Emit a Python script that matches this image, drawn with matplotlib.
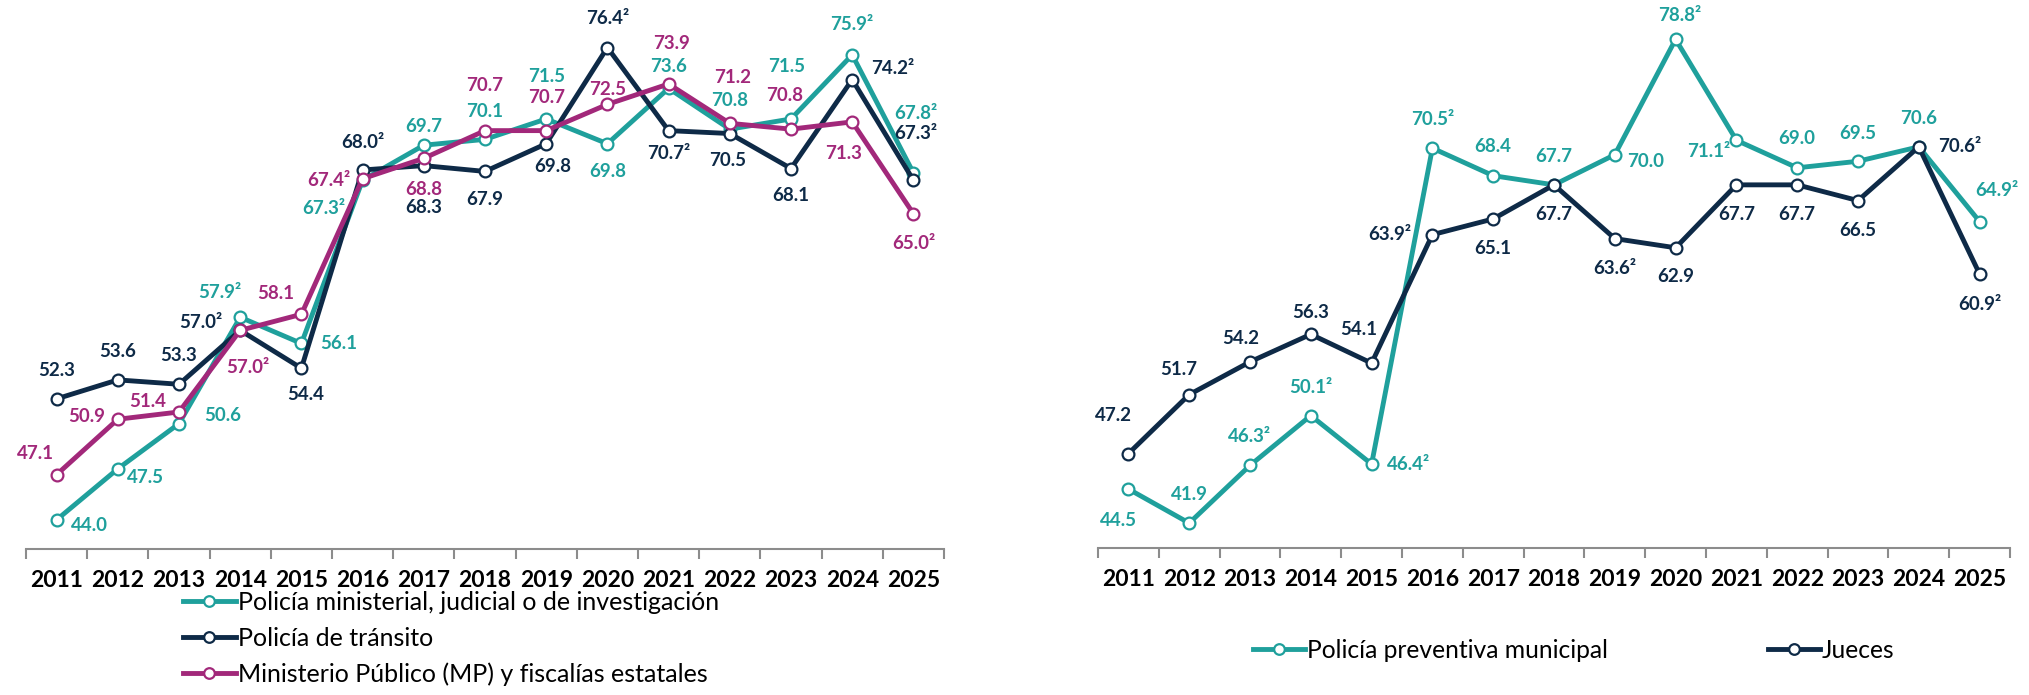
import matplotlib
matplotlib.use("Agg")
import matplotlib.pyplot as plt

plt.rcParams['font.family'] = ['Lato', 'DejaVu Sans']

# datos
anios = [str(a) for a in range(2011, 2026)]

ministerial = [44.0, 47.5, 50.6, 57.9, 56.1, 67.3, 69.7, 70.1, 71.5, 69.8, 73.6, 70.8, 71.5, 75.9, 67.8]
transito = [52.3, 53.6, 53.3, 57.0, 54.4, 68.0, 68.3, 67.9, 69.8, 76.4, 70.7, 70.5, 68.1, 74.2, 67.3]
mp = [47.1, 50.9, 51.4, 57.0, 58.1, 67.4, 68.8, 70.7, 70.7, 72.5, 73.9, 71.2, 70.8, 71.3, 65.0]

preventiva = [44.5, 41.9, 46.3, 50.1, 46.4, 70.5, 68.4, 67.7, 70.0, 78.8, 71.1, 69.0, 69.5, 70.6, 64.9]
jueces = [47.2, 51.7, 54.2, 56.3, 54.1, 63.9, 65.1, 67.7, 63.6, 62.9, 67.7, 67.7, 66.5, 70.6, 60.9]

# indices de los años con nota 2
nota_ministerial = [3, 5, 13, 14]
nota_transito = [3, 5, 9, 10, 13, 14]
nota_mp = [3, 5, 14]
nota_preventiva = [2, 3, 4, 5, 9, 10, 14]
nota_jueces = [5, 8, 13, 14]

# desplazamiento de etiquetas en pixeles (dx, dy hacia abajo)
pos_ministerial = [(33, 6), (28, 9), (44, -8), (-20, -25), (37, 0), (-39, 28), (0, -19), (0, -28),
                   (0, -42), (0, 28), (0, -22), (0, -29), (-4, -52), (0, -30), (2, -59)]
pos_transito = [(0, -28), (0, -28), (0, -29), (-39, -8), (4, 26), (0, -27), (0, 42), (0, 28),
                (7, 23), (0, -29), (0, 23), (-2, 27), (0, 27), (41, -11), (2, -47)]
pos_mp = [(-21, -21), (-31, -3), (-31, -10), (8, 37), (-26, -21), (-34, 2), (0, 31), (0, -45),
          (0, -33), (0, -15), (3, -40), (3, -46), (-6, -34), (-9, 32), (0, 30)]
pos_preventiva = [(-10, 31), (0, -29), (0, -29), (0, -28), (37, 0), (0, -29), (0, -29), (0, -28),
                  (31, 7), (4, -24), (-28, 11), (0, -29), (0, -28), (0, -28), (17, -31)]
pos_jueces = [(-15, -38), (-11, -25), (-9, -23), (0, -22), (-13, -34), (-43, 0), (0, 30), (0, 30),
              (0, 30), (0, 29), (0, 30), (0, 30), (0, 30), (41, 0), (0, 30)]

TEAL = '#1FA09C'
NAVY = '#0E2A47'
MAGENTA = '#A2287A'
GRIS = '#8C8C8C'


def serie(ax, valores, notas, posiciones, color, nombre):
    x = list(range(len(valores)))
    ax.plot(x, valores, color=color, lw=3.5, marker='o', markersize=8.5,
            markerfacecolor='white', markeredgecolor=color, markeredgewidth=1.6,
            label=nombre)
    for i, v in enumerate(valores):
        txt = f"{v:.1f}" + ("²" if i in notas else "")
        dx, dy = posiciones[i]
        ax.annotate(txt, (i, v), xytext=(dx, -dy), textcoords='offset pixels',
                    ha='center', va='center', fontsize=13.5, fontweight='bold', color=color)


def ejes(ax, ymin, ymax):
    ax.set_xlim(-0.5, 14.5)
    ax.set_ylim(ymin, ymax)
    for s in ['top', 'right', 'left']:
        ax.spines[s].set_visible(False)
    ax.spines['bottom'].set_color(GRIS)
    ax.spines['bottom'].set_linewidth(1.5)
    ax.set_yticks([])
    ax.set_xticks(range(15))
    ax.set_xticklabels(anios, fontsize=16.5, fontweight='bold')
    ax.set_xticks([i - 0.5 for i in range(16)], minor=True)
    ax.tick_params(axis='x', which='major', length=0, pad=15)
    ax.tick_params(axis='x', which='minor', length=7, width=1.5, color=GRIS)


fig = plt.figure(figsize=(20.29, 6.95), dpi=100)

ax1 = fig.add_axes([26 / 2029, 146 / 695, 918 / 2029, 549 / 695])
ax1.patch.set_alpha(0)
serie(ax1, ministerial, nota_ministerial, pos_ministerial, TEAL, 'Policía ministerial, judicial o de investigación')
serie(ax1, transito, nota_transito, pos_transito, NAVY, 'Policía de tránsito')
serie(ax1, mp, nota_mp, pos_mp, MAGENTA, 'Ministerio Público (MP) y fiscalías estatales')
ejes(ax1, 42.0, 79.66)

ax2 = fig.add_axes([1098 / 2029, 147 / 695, 912 / 2029, 548 / 695])
ax2.patch.set_alpha(0)
serie(ax2, preventiva, nota_preventiva, pos_preventiva, TEAL, 'Policía preventiva municipal')
serie(ax2, jueces, nota_jueces, pos_jueces, NAVY, 'Jueces')
ejes(ax2, 40.0, 81.8)

# leyendas
h1, l1 = ax1.get_legend_handles_labels()
fig.legend(h1, l1, loc='upper left', bbox_to_anchor=(183 / 2029, 104 / 695), frameon=False,
           fontsize=18, handlelength=2.1, handletextpad=0.1, labelspacing=0.5,
           borderpad=0, borderaxespad=0, markerscale=0.9)

h2, l2 = ax2.get_legend_handles_labels()
fig.legend(h2, l2, loc='center left', bbox_to_anchor=(1253 / 2029, 45 / 695), frameon=False,
           fontsize=17.7, ncol=2, handlelength=2.1, handletextpad=0.1, columnspacing=6.5,
           borderpad=0, borderaxespad=0, markerscale=0.9)

fig.savefig('out.png', dpi=100)
